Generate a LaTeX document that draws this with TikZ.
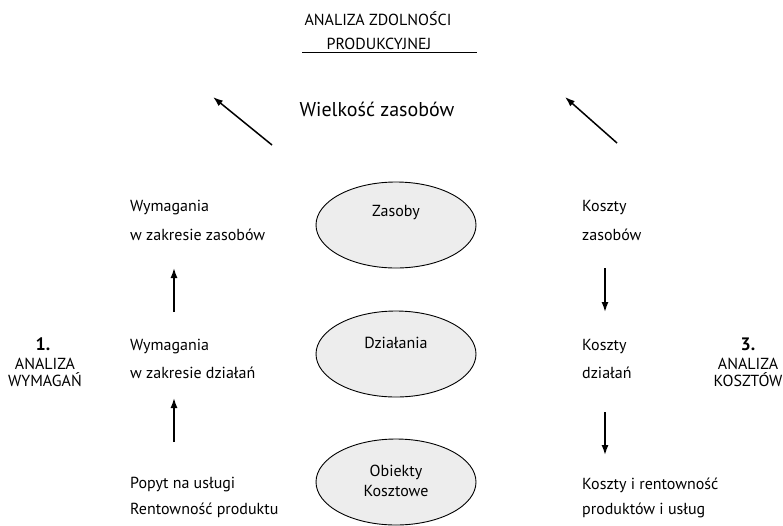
\documentclass[tikz,border=0pt]{standalone}
\usepackage{fontspec}
\setmainfont{PT Sans}
\usetikzlibrary{arrows.meta,shapes.geometric}
\begin{document}
\begin{tikzpicture}[x=1pt,y=-1pt,
  txt/.style={font=\fontsize{16}{18}\selectfont, anchor=west, inner sep=0pt},
  captxt/.style={font=\fontsize{16}{17}\selectfont, inner sep=0pt},
  oval/.style={draw, line width=0.9pt, fill=black!7, ellipse, minimum width=160pt, minimum height=86pt},
  arr/.style={line width=1.5pt, -{Latex[length=10pt,width=7pt]}},
  otxt/.style={font=\fontsize{16}{18}\selectfont, inner sep=0pt}]
\useasboundingbox (0,0) rectangle (783,525);
% title
\node[captxt] (t1) at (378,19) {ANALIZA ZDOLNOŚCI};
\node[captxt] (t2) at (379,44) {PRODUKCYJNEJ};
\draw[line width=0.9pt] (302,52) -- (477,52);
\node[font=\fontsize{20}{22}\selectfont, inner sep=0pt] (wz) at (377,109) {Wielkość zasobów};
% diagonal arrows
\coordinate (la1) at (272,145); \coordinate (la2) at (213,97);
\coordinate (ra1) at (617,143); \coordinate (ra2) at (565,97);
\draw[arr] (la1) -- (la2);
\draw[arr] (ra1) -- (ra2);
% ellipses
\node[oval] (zas) at (396,225) {};
\node[otxt] (zast) at (396,213) {Zasoby};
\node[oval] (dz) at (396,354) {};
\node[otxt] (dzt) at (396,343) {Działania};
\node[oval] (ob) at (396,482) {};
\node[otxt, align=center] (obt) at (396,481) {Obiekty\\[2pt]Kosztowe};
% left column
\node[txt] (l1) at (130,208) {Wymagania};
\node[txt] (l2) at (130,235) {w zakresie zasobów};
\node[txt] (l3) at (130,347) {Wymagania};
\node[txt] (l4) at (130,373) {w zakresie działań};
\node[txt] (l5) at (130,485) {Popyt na usługi};
\node[txt] (l6) at (130,510) {Rentowność produktu};
\coordinate (lu1a) at (174,312); \coordinate (lu1b) at (174,268);
\coordinate (lu2a) at (174,442); \coordinate (lu2b) at (174,398);
\draw[arr] (lu1a) -- (lu1b);
\draw[arr] (lu2a) -- (lu2b);
% right column
\node[txt] (r1) at (582,208) {Koszty};
\node[txt] (r2) at (582,235) {zasobów};
\node[txt] (r3) at (582,347) {Koszty};
\node[txt] (r4) at (582,373) {działań};
\node[txt] (r5) at (582,485) {Koszty i rentowność};
\node[txt] (r6) at (582,510) {produktów i usług};
\coordinate (rd1a) at (605,268); \coordinate (rd1b) at (605,312);
\coordinate (rd2a) at (605,412); \coordinate (rd2b) at (605,455);
\draw[arr] (rd1a) -- (rd1b);
\draw[arr] (rd2a) -- (rd2b);
% side labels
\node[font=\bfseries\fontsize{18}{20}\selectfont, inner sep=0pt] (n1) at (43,344) {1.};
\node[captxt, align=center] (a1) at (45,372) {ANALIZA\\WYMAGAŃ};
\node[font=\bfseries\fontsize{18}{20}\selectfont, inner sep=0pt] (n3) at (748,344) {3.};
\node[captxt, align=center] (a3) at (748,372) {ANALIZA\\KOSZTÓW};
\end{tikzpicture}
\end{document}
